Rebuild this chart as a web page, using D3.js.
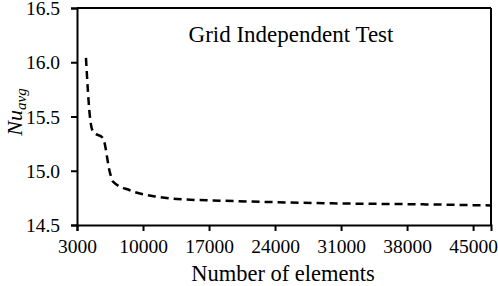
<!DOCTYPE html>
<html>
<head>
<meta charset="utf-8">
<script src="https://cdn.jsdelivr.net/npm/d3@7"></script>
<style>
  body { margin: 0; background: #fff; }
  svg, svg text { font-family: "Liberation Serif", "DejaVu Serif", serif; fill: #000; }
</style>
</head>
<body>
<div id="chart"></div>
<script>
(function() {
    const width = 498;
    const height = 286;
    const margin = { top: 8, right: 7, bottom: 61, left: 77 };

    // values
    const elements = [3950, 4380, 4700, 5760, 6500, 6820, 8600, 11500, 13600, 20000, 30000, 40000, 46900];
    const nuAvg = [16.04, 15.49, 15.36, 15.30, 14.98, 14.90, 14.82, 14.76, 14.74, 14.72, 14.70, 14.69, 14.68];
    const xTicks = [3000, 10000, 17000, 24000, 31000, 38000, 45000];
    const yTicks = [14.5, 15.0, 15.5, 16.0, 16.5];

    const data = elements.map((n, i) => ({ n: n, nu: nuAvg[i] }));

    const innerW = width - margin.left - margin.right;
    const innerH = height - margin.top - margin.bottom;

    const svg = d3.select("#chart").append("svg")
        .attr("width", width).attr("height", height)
        .attr("font-family", "Liberation Serif");

    const g = svg.append("g").attr("transform", `translate(${margin.left},${margin.top})`);

    const x = d3.scaleLinear().domain([3000, 46900]).range([0, innerW]);
    const y = d3.scaleLinear().domain([14.5, 16.5]).range([innerH, 0]);

    // frame top/right
    g.append("line").attr("x1", 0).attr("x2", innerW).attr("y1", 0).attr("y2", 0)
        .attr("stroke", "#000").attr("stroke-width", 2);
    g.append("line").attr("x1", innerW).attr("x2", innerW).attr("y1", 0).attr("y2", innerH)
        .attr("stroke", "#000").attr("stroke-width", 2);

    const xAxis = g.append("g")
        .attr("transform", `translate(0,${innerH})`)
        .call(d3.axisBottom(x).tickValues(xTicks).tickFormat(d3.format("d")).tickSize(6).tickPadding(8));

    const yAxis = g.append("g")
        .call(d3.axisLeft(y).tickValues(yTicks).tickFormat(d3.format(".1f")).tickSize(6).tickPadding(11));

    [xAxis, yAxis].forEach(a => {
        a.attr("font-family", "Liberation Serif").attr("font-size", 19.5);
        a.select(".domain").attr("stroke-width", 2);
        a.selectAll(".tick line").attr("stroke-width", 2);
    });
    yAxis.selectAll("text").attr("dy", "0.34em");

    const line = d3.line()
        .x(d => x(d.n))
        .y(d => y(d.nu))
        .curve(d3.curveMonotoneX);

    g.append("path")
        .datum(data)
        .attr("fill", "none")
        .attr("stroke", "#000")
        .attr("stroke-width", 2.5)
        .attr("stroke-dasharray", "8,5")
        .attr("d", line);

    svg.append("text")
        .attr("x", 291).attr("y", 42)
        .attr("text-anchor", "middle")
        .attr("font-size", "23px")
        .text("Grid Independent Test");

    svg.append("text")
        .attr("x", 283).attr("y", 281)
        .attr("text-anchor", "middle")
        .attr("font-size", "22.5px")
        .text("Number of elements");

    const yl = svg.append("text")
        .attr("transform", `translate(22,112) rotate(-90)`)
        .attr("text-anchor", "middle")
        .attr("font-size", "22px")
        .attr("font-style", "italic");
    yl.append("tspan").text("Nu");
    yl.append("tspan").attr("font-size", "15px").attr("dy", "4").text("avg");
})();
</script>
</body>
</html>
